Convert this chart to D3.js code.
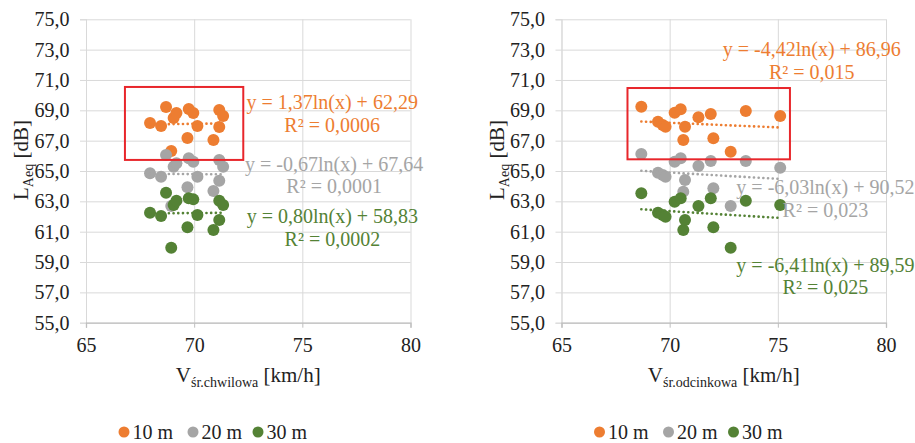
<!DOCTYPE html>
<head>
  <meta charset="utf-8">
  <script src="https://cdn.jsdelivr.net/npm/d3@7"></script>
</head>
<body style="margin:0; background:#fff; font-family:'Liberation Serif'">
  <svg width="915" height="443"><style>text, tspan { font-family: 'Liberation Serif' !important; }</style></svg>
  <script>

  // series
  var seriesNames = ["10 m", "20 m", "30 m"];
  var seriesColors = ["#ED7D31", "#A5A5A5", "#548235"];

  // ticks
  var yTicks = [55, 57, 59, 61, 63, 65, 67, 69, 71, 73, 75];
  var xTicks = [65, 70, 75, 80];

  // left panel: V śr.chwilowa
  var vChwilowa = [67.96, 68.47, 68.70, 68.94, 69.05, 69.18, 69.69, 69.75, 69.96, 70.15, 70.89, 71.16, 71.16, 71.34];
  var chw10 = [68.16, 67.97, 69.22, 66.32, 68.49, 68.82, 67.18, 69.09, 68.82, 67.97, 67.04, 69.02, 67.90, 68.63];
  var chw20 = [64.85, 64.62, 66.05, 62.69, 65.28, 65.51, 63.93, 65.84, 65.61, 64.62, 63.68, 65.73, 64.36, 65.28];
  var chw30 = [62.25, 62.03, 63.57, 59.94, 62.76, 63.04, 61.29, 63.20, 63.13, 62.10, 61.11, 63.04, 61.77, 62.76];
  var chwA = [1.37, -0.67, 0.80];
  var chwB = [62.29, 67.64, 58.83];
  var chwR2 = ["0,0006", "0,0001", "0,0002"];

  // right panel: V śr.odcinkowa
  var vOdcinkowa = [68.69, 69.46, 69.68, 69.81, 70.23, 70.51, 70.63, 70.71, 71.33, 71.90, 72.02, 72.82, 73.52, 75.11];
  var odc10 = [69.24, 68.25, 68.03, 67.92, 68.84, 69.07, 67.04, 67.92, 68.54, 68.76, 67.16, 66.27, 68.95, 68.63];
  var odc20 = [66.12, 64.89, 64.74, 64.62, 65.61, 65.84, 63.64, 64.41, 65.33, 65.66, 63.86, 62.69, 65.66, 65.22];
  var odc30 = [63.53, 62.25, 62.10, 61.99, 62.98, 63.20, 61.11, 61.77, 62.69, 63.20, 61.29, 59.94, 63.04, 62.76];
  var odcA = [-4.42, -6.03, -6.41];
  var odcB = [86.96, 90.52, 89.59];
  var odcR2 = ["0,015", "0,023", "0,025"];

  var pl = d3.formatLocale({decimal: ",", thousands: " ", grouping: [3], currency: ["", " zł"], minus: "-"});
  var f1 = pl.format(".1f"), f2 = pl.format(".2f");

  var svg = d3.select("svg");

  var y = d3.scaleLinear().domain([55, 75]).range([322.7, 19.3]);

  function panel(o) {
    var x = d3.scaleLinear().domain([65, 80]).range([o.x0, o.x0 + 324.5]);
    var g = svg.append("g");
    var w = x.range()[1] - x.range()[0];

    // grid
    g.append("g")
        .attr("transform", "translate(" + o.x0 + ",0)")
        .call(d3.axisLeft(y).tickValues(yTicks).tickSize(-w).tickFormat(""))
        .call(function(s) { s.select(".domain").remove(); s.selectAll("text").remove(); })
        .selectAll("line").attr("stroke", "#d9d9d9");
    g.append("g")
        .attr("transform", "translate(0," + y(55) + ")")
        .call(d3.axisBottom(x).tickValues(xTicks).tickSize(-(y(55) - y(75))).tickFormat(""))
        .call(function(s) { s.select(".domain").remove(); s.selectAll("text").remove(); })
        .selectAll("line").attr("stroke", "#d9d9d9");

    // axes
    var ya = g.append("g")
        .attr("transform", "translate(" + o.x0 + ",0)")
        .call(d3.axisLeft(y).tickValues(yTicks).tickSize(6).tickPadding(10.5).tickFormat(f1))
        .attr("font-family", null).attr("font-size", 20);
    ya.select(".domain").attr("stroke", "#d9d9d9");
    ya.selectAll("line").attr("stroke", "#d9d9d9");
    ya.selectAll("text").attr("fill", "#222");

    var xa = g.append("g")
        .attr("transform", "translate(0," + y(55) + ")")
        .call(d3.axisBottom(x).tickValues(xTicks).tickSize(5).tickPadding(10.5))
        .attr("font-family", null).attr("font-size", 20);
    xa.select(".domain").attr("stroke", "#bfbfbf").attr("stroke-width", 1.3);
    xa.selectAll("line").attr("stroke", "#bfbfbf");
    xa.selectAll("text").attr("fill", "#222");

    // points
    o.ys.forEach(function(vals, i) {
      g.append("g").selectAll("circle")
        .data(vals.map(function(v, j) { return [o.xs[j], v]; }))
        .enter().append("circle")
          .attr("cx", function(d) { return x(d[0]); })
          .attr("cy", function(d) { return y(d[1]); })
          .attr("r", 6)
          .attr("fill", seriesColors[i]);
    });

    // log trendlines
    var ext = d3.extent(o.xs);
    var line = d3.line().x(function(d) { return x(d[0]); }).y(function(d) { return y(d[1]); });
    o.a.forEach(function(a, i) {
      var pts = d3.range(0, 41).map(function(k) {
        var xv = ext[0] + (ext[1] - ext[0]) * k / 40;
        return [xv, a * Math.log(xv) + o.b[i]];
      });
      g.append("path")
          .attr("d", line(pts))
          .attr("fill", "none")
          .attr("stroke", seriesColors[i])
          .attr("stroke-width", 2.6)
          .attr("stroke-linecap", "round")
          .attr("stroke-dasharray", "0.1 4.6");

      g.append("text")
          .attr("x", x(o.lab[i][0]))
          .attr("y", y(o.lab[i][1]))
          .attr("text-anchor", "middle")
          .attr("font-size", 20)
          .attr("fill", seriesColors[i])
          .text("y = " + f2(a) + "ln(x) + " + f2(o.b[i]));
      g.append("text")
          .attr("x", x(o.lab[i][0]))
          .attr("y", y(o.lab[i][1]) + 22.7)
          .attr("text-anchor", "middle")
          .attr("font-size", 20)
          .attr("fill", seriesColors[i])
          .text("R² = " + o.r2[i]);
    });

    // red box
    g.append("rect")
        .attr("x", x(o.box[0]))
        .attr("y", y(o.box[3]))
        .attr("width", x(o.box[1]) - x(o.box[0]))
        .attr("height", y(o.box[2]) - y(o.box[3]))
        .attr("fill", "none")
        .attr("stroke", "#e8262b")
        .attr("stroke-width", 2);

    // x title
    var xt = g.append("text")
        .attr("x", (x.range()[0] + x.range()[1]) / 2)
        .attr("y", 382)
        .attr("text-anchor", "middle")
        .attr("font-size", 21)
        .attr("fill", "#222");
    xt.append("tspan").text("V");
    xt.append("tspan").attr("font-size", 14).attr("dy", 5).text(o.sub);
    xt.append("tspan").attr("dy", -5).text(" [km/h]");

    // y title
    var yt = g.append("text")
        .attr("transform", "translate(" + (o.x0 - 58) + ",160) rotate(-90)")
        .attr("text-anchor", "middle")
        .attr("font-size", 21)
        .attr("fill", "#222");
    yt.append("tspan").text("L");
    yt.append("tspan").attr("font-size", 14).attr("dy", 5).text("Aeq");
    yt.append("tspan").attr("dy", -5).text(" [dB]");

    // legend
    var lg = g.append("g").selectAll("g")
      .data(seriesNames)
      .enter().append("g")
        .attr("transform", function(d, i) { return "translate(" + (o.x0 + [38, 107, 172][i]) + ",432)"; });
    lg.append("circle").attr("r", 5.5).attr("fill", function(d, i) { return seriesColors[i]; });
    lg.append("text").attr("x", 8.5).attr("y", 6.5).attr("font-size", 20).attr("fill", "#222").text(function(d) { return d; });
  }

  panel({
    x0: 86, xs: vChwilowa, ys: [chw10, chw20, chw30], a: chwA, b: chwB, r2: chwR2,
    lab: [[76.38, 69.07], [76.47, 65.02], [76.39, 61.55]],
    box: [66.8, 72.27, 65.73, 70.54], sub: "śr.chwilowa"
  });
  panel({
    x0: 561.5, xs: vOdcinkowa, ys: [odc10, odc20, odc30], a: odcA, b: odcB, r2: odcR2,
    lab: [[76.57, 72.58], [77.2, 63.48], [77.2, 58.36]],
    box: [68.05, 75.56, 65.77, 70.47], sub: "śr.odcinkowa"
  });

  svg.selectAll("text").style("font-family", "'Liberation Serif'");

  </script>
</body>
